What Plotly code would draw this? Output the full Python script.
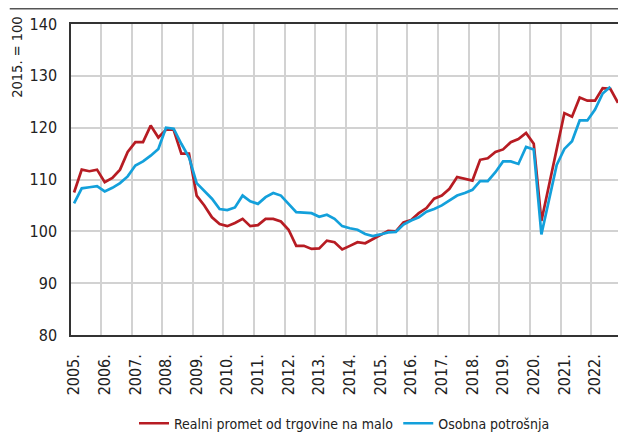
import plotly.graph_objects as go

# Quarterly data, 2005 Q1 .. 2022 Q4 (index 0 = 2005 Q1)
years = list(range(2005, 2023))
year_labels = [f"{y}." for y in years]

realni_promet = [
    107.5, 111.9, 111.6, 111.9,   # 2005
    109.5, 110.3, 111.9, 115.3,   # 2006
    117.2, 117.2, 120.4, 118.1,   # 2007
    119.6, 119.6, 115.0, 115.0,   # 2008
    106.9, 105.0, 102.7, 101.4,   # 2009
    101.0, 101.6, 102.4, 101.0,   # 2010
    101.2, 102.4, 102.4, 101.9,   # 2011
    100.3, 97.2, 97.2, 96.6,      # 2012
    96.7, 98.2, 97.9, 96.5,       # 2013
    97.2, 97.9, 97.7, 98.5,       # 2014
    99.3, 100.1, 100.0, 101.7,    # 2015
    102.2, 103.5, 104.5, 106.3,   # 2016
    106.9, 108.2, 110.5, 110.1,   # 2017
    109.8, 113.8, 114.1, 115.3,   # 2018
    115.8, 117.2, 117.8, 119.0,   # 2019
    116.9, 102.0, 109.0, 116.0,   # 2020
    122.8, 122.1, 125.8, 125.2,   # 2021
    125.2, 127.6, 127.5, 124.8,   # 2022
]

osobna_potrosnja = [
    105.4, 108.3, 108.5, 108.7,   # 2005
    107.7, 108.4, 109.3, 110.6,   # 2006
    112.7, 113.5, 114.6, 115.9,   # 2007
    120.0, 119.8, 116.9, 114.3,   # 2008
    109.3, 107.9, 106.3, 104.3,   # 2009
    104.1, 104.6, 106.9, 105.8,   # 2010
    105.3, 106.6, 107.4, 106.9,   # 2011
    105.3, 103.7, 103.6, 103.5,   # 2012
    102.8, 103.2, 102.4, 101.0,   # 2013
    100.6, 100.3, 99.5, 99.1,     # 2014
    99.4, 99.8, 99.9, 101.3,      # 2015
    102.1, 102.7, 103.8, 104.3,   # 2016
    105.0, 105.9, 106.9, 107.4,   # 2017
    108.0, 109.7, 109.7, 111.4,   # 2018
    113.5, 113.5, 113.0, 116.3,   # 2019
    115.8, 99.4, 106.0, 112.8,    # 2020
    115.9, 117.4, 121.4, 121.4,   # 2021
    123.5, 126.6, 127.9,          # 2022
]

quarter_index_red = list(range(len(realni_promet)))
quarter_index_blue = list(range(len(osobna_potrosnja)))
tick_positions = [4 * i for i in range(len(years))]
grid_positions = [4 * i + 3.5 for i in range(len(years))]

FONT = "DejaVu Sans Condensed, Liberation Sans Narrow, Arial Narrow, sans-serif"
RED = "#b71c23"
BLUE = "#13a0db"
GRID = "#d2d2d2"
AXIS = "#333333"

fig = go.Figure()
fig.add_trace(go.Scatter(
    x=quarter_index_red, y=realni_promet, mode="lines",
    name="Realni promet od trgovine na malo",
    line=dict(color=RED, width=2.7),
))
fig.add_trace(go.Scatter(
    x=quarter_index_blue, y=osobna_potrosnja, mode="lines",
    name="Osobna potrošnja",
    line=dict(color=BLUE, width=2.7),
))
# invisible trace on overlay axis carrying the vertical gridlines
fig.add_trace(go.Scatter(x=[grid_positions[0]], y=[None], xaxis="x2",
                         showlegend=False, hoverinfo="skip"))

x_range = [-0.4, 71.0]
fig.update_layout(
    width=618, height=434,
    margin=dict(l=71, r=0, t=24, b=99, autoexpand=False),
    paper_bgcolor="white", plot_bgcolor="white",
    font=dict(family=FONT, size=16, color="#222222"),
    showlegend=True,
    legend=dict(orientation="h", x=0.5, xanchor="center", y=-0.285, yanchor="middle",
                font=dict(size=14), itemwidth=30, tracegroupgap=0),
    xaxis=dict(
        range=x_range, tickmode="array", tickvals=tick_positions, ticktext=year_labels,
        tickangle=-90, showgrid=False, zeroline=False, automargin=False,
        showline=True, linecolor=AXIS, linewidth=1.5, mirror=True,
        ticks="", ticklabelstandoff=11,
    ),
    xaxis2=dict(
        range=x_range, overlaying="x", tickmode="array", tickvals=grid_positions,
        showticklabels=False, showgrid=True, gridcolor=GRID, gridwidth=1.5,
        zeroline=False, showline=False, ticks="", automargin=False,
        layer="below traces",
    ),
    yaxis=dict(
        range=[80, 140], dtick=10, showgrid=True, gridcolor=GRID, gridwidth=1.5,
        zeroline=False, showline=True, linecolor=AXIS, linewidth=1.5,
        ticks="", ticklabelstandoff=9, automargin=False,
    ),
    annotations=[dict(
        text="2015. = 100", textangle=-90, xref="paper", yref="paper",
        x=-0.099, y=0.894, xanchor="center", yanchor="middle", showarrow=False,
        font=dict(size=14.5, family=FONT, color="#222222"),
    )],
    shapes=[dict(type="line", xref="paper", yref="paper", x0=-0.112, x1=1.0,
                 y0=1.049, y1=1.049, line=dict(color="#555555", width=1.5))],
)

fig.write_html("out.html", config={"displayModeBar": False},
               post_script="document.body.style.margin='0';")
